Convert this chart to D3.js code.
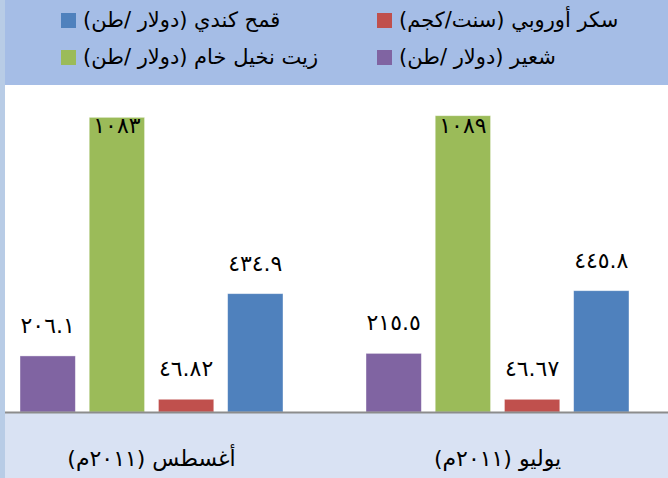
<!DOCTYPE html>
<html lang="ar">
<head>
<meta charset="utf-8">
<script src="https://cdn.jsdelivr.net/npm/d3@7"></script>
<style>
  html, body { margin: 0; padding: 0; background: #ffffff; }
  svg { display: block; }
</style>
</head>
<body>
<svg id="chart" width="668" height="478"></svg>
<script>
// ---- data ----
const categories = ["أغسطس (٢٠١١م)", "يوليو (٢٠١١م)"];          // left to right
const seriesNames = ["شعير (دولار /طن)", "زيت نخيل خام (دولار /طن)", "سكر أوروبي (سنت/كجم)", "قمح كندي (دولار /طن)"];
const barley   = [206.1, 215.5];
const palmOil  = [1083, 1089];
const sugar    = [46.82, 46.67];
const wheat    = [434.9, 445.8];
const barleyLabels  = ["٢٠٦.١", "٢١٥.٥"];
const palmOilLabels = ["١٠٨٣", "١٠٨٩"];
const sugarLabels   = ["٤٦.٨٢", "٤٦.٦٧"];
const wheatLabels   = ["٤٣٤.٩", "٤٤٥.٨"];

// ---- styling / layout ----
const colors = ["#8064A2", "#9BBB59", "#C0504D", "#4F81BD"];
const W = 668, H = 478;
const plotTop = 85, baseY = 412;
const svg = d3.select("#chart");

const series = [
  {name: seriesNames[0], values: barley,  labels: barleyLabels,  color: colors[0]},
  {name: seriesNames[1], values: palmOil, labels: palmOilLabels, color: colors[1]},
  {name: seriesNames[2], values: sugar,   labels: sugarLabels,   color: colors[2]},
  {name: seriesNames[3], values: wheat,   labels: wheatLabels,   color: colors[3]}
];

// backgrounds
svg.append("rect").attr("x", 0).attr("y", 0).attr("width", W).attr("height", plotTop).attr("fill", "#A5BDE6");
svg.append("rect").attr("x", 0).attr("y", baseY).attr("width", W).attr("height", H - baseY).attr("fill", "#D9E2F3");
svg.append("rect").attr("x", 0).attr("y", 0).attr("width", 5).attr("height", H).attr("fill", "#B8CCE6");

// scales
const x0 = d3.scaleBand().domain(categories).range([-21.5, 670.5]).padding(0);
const x1 = d3.scaleBand().domain(d3.range(series.length)).range([41.5, 304.5]).paddingInner(0.2).paddingOuter(0);
const y = d3.scaleLinear().domain([0, 1200]).range([baseY, plotTop + 0.5]);

// bars
const groups = svg.append("g").selectAll("g")
  .data(categories)
  .join("g")
  .attr("transform", d => `translate(${x0(d)},0)`);

groups.each(function(cat, ci) {
  const g = d3.select(this);
  series.forEach((s, si) => {
    const v = s.values[ci];
    g.append("rect")
      .attr("x", x1(si))
      .attr("y", y(v))
      .attr("width", x1.bandwidth())
      .attr("height", baseY - y(v))
      .attr("fill", s.color)
      .attr("stroke", "#ffffff")
      .attr("stroke-opacity", 0.5)
      .attr("stroke-width", 0.8);
  });
});
groups.each(function(cat, ci) {
  const g = d3.select(this);
  series.forEach((s, si) => {
    const top = y(s.values[ci]);
    const ly = Math.max(top - 23, plotTop + 48);
    g.append("text")
      .attr("x", x1(si) + x1.bandwidth() / 2)
      .attr("y", ly)
      .attr("text-anchor", "middle")
      .attr("font-family", "DejaVu Sans, sans-serif")
      .attr("font-size", 22)
      .attr("fill", "#000")
      .text(s.labels[ci]);
  });
});

// axis line
svg.append("line").attr("x1", 5).attr("x2", W).attr("y1", baseY + 0.5).attr("y2", baseY + 0.5)
  .attr("stroke", "#8C8C8C").attr("stroke-width", 2);

// category labels
const xAxis = d3.axisBottom(x0).tickSize(0).tickPadding(0);
const ax = svg.append("g").attr("transform", `translate(0,${baseY})`).call(xAxis);
ax.select(".domain").remove();
ax.selectAll("text")
  .attr("y", 54)
  .attr("dy", 0)
  .attr("font-family", "DejaVu Sans, sans-serif")
  .attr("font-size", 22)
  .attr("fill", "#000")
  .attr("direction", "rtl")
  .attr("text-anchor", "middle");

// legend
const legendItems = [
  {s: series[3], col: 0, row: 0},
  {s: series[1], col: 0, row: 1},
  {s: series[2], col: 1, row: 0},
  {s: series[0], col: 1, row: 1}
];
const colX = [61, 377], rowY = [13, 50];
const leg = svg.append("g");
legendItems.forEach(it => {
  leg.append("rect")
    .attr("x", colX[it.col]).attr("y", rowY[it.row])
    .attr("width", 15).attr("height", 15)
    .attr("fill", it.s.color);
  leg.append("text")
    .attr("x", colX[it.col] + 22)
    .attr("y", rowY[it.row] + 14)
    .attr("direction", "rtl")
    .attr("text-anchor", "end")
    .attr("font-family", "DejaVu Sans, sans-serif")
    .attr("font-size", 21)
    .attr("fill", "#000")
    .text(it.s.name);
});
</script>
</body>
</html>
